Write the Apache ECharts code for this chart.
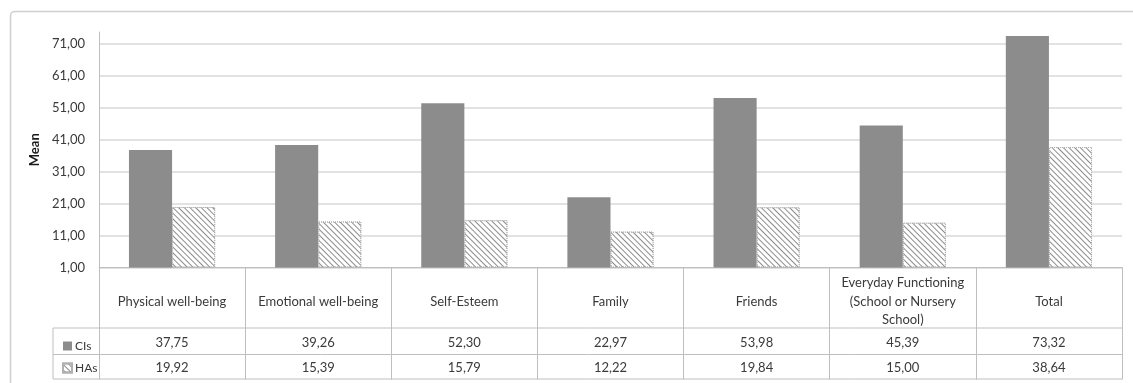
<!DOCTYPE html>
<html>
<head>
<meta charset="utf-8">
<script src="https://cdn.jsdelivr.net/npm/echarts@6/dist/echarts.min.js"></script>
<style>
html,body{margin:0;padding:0;background:#fff;}
#chart{width:1133px;height:383px;}
</style>
</head>
<body>
<div id="chart"></div>
<script>
var categories = ['Physical well-being', 'Emotional well-being', 'Self-Esteem', 'Family', 'Friends', 'Everyday Functioning\n(School or Nursery\nSchool)', 'Total'];
var seriesNames = ['CIs', 'HAs'];
var cisValues = [37.75, 39.26, 52.30, 22.97, 53.98, 45.39, 73.32];
var hasValues = [19.92, 15.39, 15.79, 12.22, 19.84, 15.00, 38.64];
var axisBase = 1;          // first tick label (1,00)
var tickStep = 10;
var axisTop = 74.6;

function fmt(v) { return v.toFixed(2).replace('.', ','); }

var chart = echarts.init(document.getElementById('chart'));
var textColor = '#3a3a3a';
var FONT = 'Lato';
var FS = 13;
var gridLeft = 99, gridRight = 11, gridTop = 32, gridBottom = 115.5;
var W = 1133, H = 383;
var baseY = H - gridBottom;
var tableLine = '#bfbfbf';
var rowY = [baseY + 60.5, baseY + 87, baseY + 111.5];

var graphics = [
  { type: 'rect', shape: { x: 10.5, y: 11.5, width: 1200, height: 500, r: 4 },
    style: { fill: 'none', stroke: '#d0d0d0', lineWidth: 1.5 }, silent: true }
];
rowY.forEach(function (y) {
  graphics.push({ type: 'line', shape: { x1: 53, y1: y, x2: W - gridRight, y2: y },
    style: { stroke: tableLine, lineWidth: 1 }, silent: true });
});
graphics.push({ type: 'line', shape: { x1: 53, y1: rowY[0], x2: 53, y2: rowY[2] },
  style: { stroke: tableLine, lineWidth: 1 }, silent: true });

var splitColors = [];
for (var i = 0; i < 8; i++) splitColors.push('#d9d9d9');
splitColors.push('rgba(0,0,0,0)');

chart.setOption({
  animation: false,
  textStyle: { fontFamily: FONT },
  grid: { left: gridLeft, right: gridRight, top: gridTop, bottom: gridBottom, containLabel: false },
  legend: {
    orient: 'vertical', left: 57, top: 335, itemGap: 10,
    itemWidth: 9, itemHeight: 9, selectedMode: false, icon: 'rect',
    textStyle: { color: textColor, fontSize: 12, fontFamily: FONT, padding: [0, 0, 0, -2] },
    data: seriesNames
  },
  xAxis: [
    { type: 'category', data: categories, position: 'bottom',
      axisLine: { show: true, lineStyle: { color: tableLine, width: 1 } },
      axisTick: { show: true, length: 112, interval: 0, lineStyle: { color: tableLine, width: 1 } },
      axisLabel: { interval: 0, margin: 34, verticalAlign: 'middle', color: textColor, fontSize: FS,
        lineHeight: 18.5, fontFamily: FONT, align: 'center' },
      splitLine: { show: false } },
    { type: 'category', data: categories, position: 'bottom', offset: 0,
      axisLine: { show: false }, axisTick: { show: false },
      axisLabel: { interval: 0, margin: 75, verticalAlign: 'middle', color: textColor, fontSize: FS, fontFamily: FONT,
        formatter: function (v, idx) { return fmt(cisValues[idx]); } } },
    { type: 'category', data: categories, position: 'bottom', offset: 0,
      axisLine: { show: false }, axisTick: { show: false },
      axisLabel: { interval: 0, margin: 100.5, verticalAlign: 'middle', color: textColor, fontSize: FS, fontFamily: FONT,
        formatter: function (v, idx) { return fmt(hasValues[idx]); } } }
  ],
  yAxis: {
    type: 'value', min: 0, max: axisTop - axisBase, interval: tickStep,
    name: 'Mean', nameLocation: 'middle', nameRotate: 90, nameGap: 51,
    nameTextStyle: { color: '#1a1a1a', fontWeight: 'bold', fontSize: 13, fontFamily: FONT },
    axisLine: { show: true, lineStyle: { color: '#bfbfbf', width: 1 } },
    axisTick: { show: false },
    axisLabel: { color: textColor, fontSize: FS, margin: 14, fontFamily: FONT,
      formatter: function (v) {
        if (Math.abs(v % tickStep) > 1e-6) return '';
        return fmt(v + axisBase);
      } },
    splitLine: { show: true, lineStyle: { color: splitColors, width: 1.5 } }
  },
  series: [
    { name: seriesNames[0], type: 'bar', xAxisIndex: 0, barGap: '0%', barCategoryGap: '41%',
      itemStyle: { color: '#8c8c8c' },
      data: cisValues.map(function (v) { return v - axisBase; }) },
    { name: seriesNames[1], type: 'bar', xAxisIndex: 0, barGap: '0%', barCategoryGap: '41%',
      itemStyle: { color: '#ffffff', borderColor: '#b0b0b0', borderWidth: 1, borderType: 'dotted',
        decal: { symbol: 'rect', color: '#8c8c8c', dashArrayX: [1, 0], dashArrayY: [1, 2.2], rotation: Math.PI / 4 } },
      data: hasValues.map(function (v) { return v - axisBase; }) }
  ],
  graphic: graphics
});
</script>
</body>
</html>
